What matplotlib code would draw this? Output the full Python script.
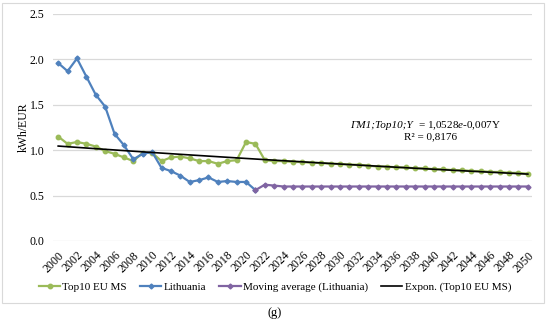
import numpy as np
import matplotlib
matplotlib.use("Agg")
import matplotlib.pyplot as plt
from matplotlib.patches import Rectangle

plt.rcParams['font.family'] = ['Liberation Serif', 'DejaVu Serif']
plt.rcParams['mathtext.fontset'] = 'custom'
plt.rcParams['mathtext.rm'] = 'Liberation Serif'
plt.rcParams['mathtext.it'] = 'Liberation Serif:italic'

# data
years = list(range(2000, 2051))
top10 = [1.15, 1.07, 1.09, 1.07, 1.04, 0.99, 0.96, 0.92, 0.88, 0.97,
         0.97, 0.88, 0.92, 0.93, 0.91, 0.88, 0.88, 0.85, 0.88, 0.89,
         1.09, 1.07, 0.89, 0.88, 0.88, 0.87, 0.87, 0.86, 0.86, 0.85,
         0.85, 0.84, 0.84, 0.83, 0.82, 0.82, 0.81, 0.81, 0.80, 0.80,
         0.79, 0.79, 0.78, 0.78, 0.77, 0.77, 0.76, 0.76, 0.75, 0.75, 0.74]
lit_years = list(range(2000, 2022))
lithuania = [1.96, 1.87, 2.01, 1.81, 1.61, 1.48, 1.18, 1.055, 0.90, 0.96,
             0.98, 0.805, 0.77, 0.72, 0.65, 0.67, 0.70, 0.65, 0.66, 0.65,
             0.65, 0.56]
ma_years = list(range(2021, 2051))
moving_avg = [0.56, 0.62, 0.61, 0.60] + [0.60] * 26

# exponential trend shown on the chart: y = 1.0528 e^(-0.007 x), x = 1..51
trend_a = 1.0528
trend_b = -0.007

green = '#9BBB59'
blue = '#4F81BD'
purple = '#8064A2'

fig = plt.figure(figsize=(5.5, 3.22), dpi=100)
ax = fig.add_axes([0.0964, 0.2516, 0.871, 0.705])

ax.plot(years, top10, color=green, lw=1.6, marker='o', ms=3.2, label='Top10 EU MS', zorder=3)
ax.plot(lit_years, lithuania, color=blue, lw=1.6, marker='D', ms=2.5, label='Lithuania', zorder=3)
ax.plot(ma_years, moving_avg, color=purple, lw=1.6, marker='D', ms=2.5,
        label='Moving average (Lithuania)', zorder=3)
x_idx = np.arange(1, len(years) + 1)
ax.plot(years, trend_a * np.exp(trend_b * x_idx), color='black', lw=1.2,
        label='Expon. (Top10 EU MS)', zorder=4)

ax.set_xlim(1999.45, 2050.45)
ax.set_ylim(0, 2.5)
ax.set_yticks(np.arange(0, 2.51, 0.5))
ax.set_yticklabels([f'{v:.1f}' for v in np.arange(0, 2.51, 0.5)], fontsize=8.5)
ax.set_xticks(years[::2])
ax.set_xticklabels([str(y) for y in years[::2]], rotation=45, ha='right',
                   rotation_mode='anchor', fontsize=8.5)
ax.tick_params(length=0, pad=6)
ax.grid(axis='y', color='#D9D9D9', lw=0.9)
ax.set_axisbelow(True)
for s in ax.spines.values():
    s.set_visible(False)
ax.set_ylabel('kWh/EUR', fontsize=8.5, labelpad=0)

# trendline label, italic head then the equation
fig.text(0.751, 0.610, 'ΓM1;Top10;Y', ha='right', va='center', fontsize=8, style='italic')
fig.text(0.760, 0.610, r'= 1,0528$\mathit{e}$-0,007Y', ha='left', va='center', fontsize=8)
fig.text(0.782, 0.575, 'R² = 0,8176', ha='center', va='center', fontsize=8)

fig.legend(loc='center', bbox_to_anchor=(0.5, 0.108), ncol=4, frameon=False,
           fontsize=8, handlelength=1.9, handletextpad=0.2, columnspacing=1.2)

fig.patches.append(Rectangle((0.004, 0.06), 0.985, 0.93, transform=fig.transFigure,
                             fill=False, edgecolor='#D9D9D9', lw=0.8))
fig.text(0.5, 0.028, '(g)', ha='center', va='center', fontsize=9)

fig.savefig('out.png', dpi=100)
